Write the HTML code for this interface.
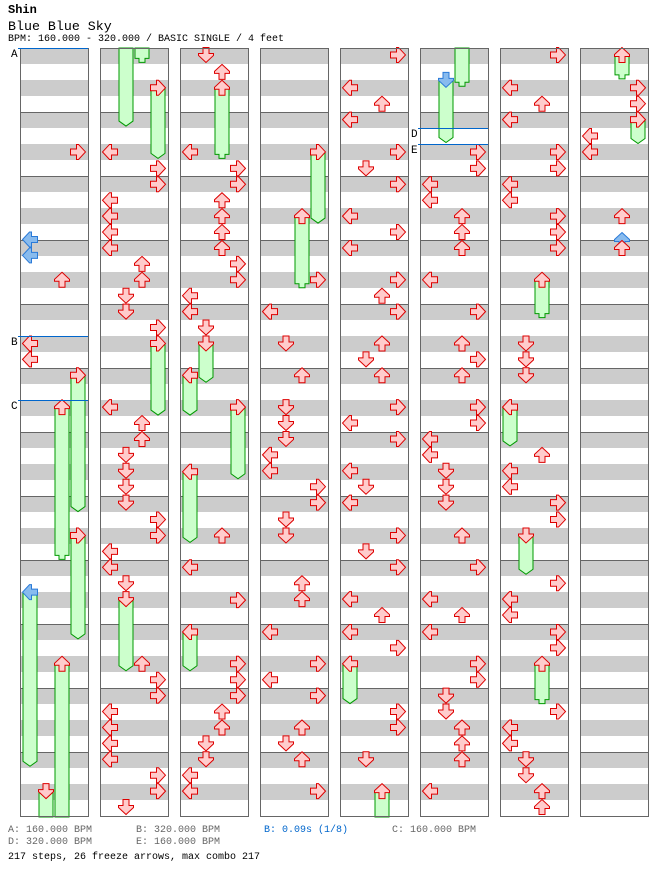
<!DOCTYPE html>
<html><head><meta charset="utf-8">
<style>
body{margin:0;background:#fff;width:672px;height:888px;overflow:hidden;position:relative;font-family:"Liberation Mono",monospace}
.t{position:absolute;white-space:pre;font-family:"Liberation Mono",monospace}
svg{position:absolute;left:0;top:0}
</style></head><body>
<div class="t" style="left:8px;top:3px;font-size:12px;font-weight:bold">Shin</div>
<div class="t" style="left:8px;top:19px;font-size:13.3px">Blue Blue Sky</div>
<div class="t" style="left:8px;top:34px;font-size:10px">BPM: 160.000 - 320.000 / BASIC SINGLE / 4 feet</div>
<svg id="s" width="672" height="888" xmlns="http://www.w3.org/2000/svg"></svg>
<div class="t" style="left:8px;top:825px;font-size:10px;color:#666">A: 160.000 BPM</div>
<div class="t" style="left:136px;top:825px;font-size:10px;color:#666">B: 320.000 BPM</div>
<div class="t" style="left:264px;top:825px;font-size:10px;color:#0066cc">B: 0.09s (1/8)</div>
<div class="t" style="left:392px;top:825px;font-size:10px;color:#666">C: 160.000 BPM</div>
<div class="t" style="left:8px;top:837px;font-size:10px;color:#666">D: 320.000 BPM</div>
<div class="t" style="left:136px;top:837px;font-size:10px;color:#666">E: 160.000 BPM</div>
<div class="t" style="left:8px;top:852px;font-size:10px;color:#000">217 steps, 26 freeze arrows, max combo 217</div>
<script>
var cols=[
"R217 bL393 bL425 U474 L602 L634 fR666-940 fU730-1036 fR988-1196 bfL1102-1452 fU1246-1600 fD1502-1600",
"fD-20-165 fU-20-37 fR88-230 L217 R250 R282 L314 L346 L378 L410 U442 U474 D506 D538 R570 fR602-746 L730 U762 U794 D826 D858 D890 D922 R956 R988 L1020 L1052 D1084 fD1116-1260 U1246 R1278 R1310 L1342 L1374 L1406 L1438 R1470 R1502 D1534",
"D22 U56 fU88-230 L217 R250 R282 U314 U346 U378 U410 R442 R474 L506 L538 D570 fD602-680 fL666-746 fR730-874 fL860-1002 U988 L1052 R1118 fL1182-1260 R1246 R1278 R1310 U1342 U1374 D1406 D1438 L1470 L1502",
"fR217-360 fU346-490 R474 L538 D602 U666 D730 D762 D794 L826 L858 R890 R922 D956 D988 U1084 U1116 L1182 R1246 L1278 R1310 U1374 D1406 U1438 R1502",
"R22 L88 U120 L152 R217 D250 R282 L346 R378 L410 R474 U506 R538 U602 D634 U666 R730 L762 R794 L858 D890 L922 R988 D1020 R1052 L1116 U1148 L1182 R1214 fL1246-1326 R1342 R1374 D1438 fU1502-1600",
"fU-20-85 bfD72-198 R217 R250 L282 L314 U346 U378 U410 L474 R538 U602 R634 U666 R730 R762 L794 L826 D858 D890 D922 U988 R1052 L1116 U1148 L1182 R1246 R1278 D1310 D1342 U1374 U1406 U1438 L1502",
"R22 L88 U120 L152 R217 R250 L282 L314 R346 R378 R410 fU474-550 D602 D634 D666 fL730-808 U826 L858 L890 R922 R956 fD988-1066 R1084 L1116 L1148 R1182 R1214 fU1246-1326 R1342 L1374 L1406 D1438 D1470 U1502 U1534",
"fU22-70 R88 R120 fR152-200 L185 L217 U346 bU394 U410"
];
var NS="http://www.w3.org/2000/svg",s=document.getElementById('s');
function el(t,a){var e=document.createElementNS(NS,t);for(var k in a)e.setAttribute(k,a[k]);s.appendChild(e);return e;}
function Y(z){return 48+(z-8)/2.0104;}
var rot={L:-90,D:180,U:0,R:90},lane={L:0,D:1,U:2,R:3};
var AP="0,-7.5 7.5,-0.5 7.5,1.5 3,1.5 3,7.5 -3,7.5 -3,1.5 -7.5,1.5 -7.5,-0.5";
function arrow(x,y,d,blue){el('polygon',{points:AP,transform:'translate('+x+','+y+') rotate('+rot[d]+')',fill:blue?'#88bbee':'#ffcccc',stroke:blue?'#2a7ad8':'#dd0000','stroke-width':1});}
for(var k=0;k<8;k++){var x0=20+80*k;
 el('rect',{x:x0,y:48,width:68,height:768,fill:'#fff'});
 for(var b=0;b<24;b++)el('rect',{x:x0,y:48+b*32,width:68,height:16,fill:'#cccccc'});
 for(var m=1;m<12;m++)el('line',{x1:x0,x2:x0+68,y1:48+m*64+0.5,y2:48+m*64+0.5,stroke:'#666'});
}
function bl(x1,x2,y,l,lx){el('line',{x1:x1,x2:x2,y1:y+0.5,y2:y+0.5,stroke:'#0066cc'});var t=el('text',{x:lx,y:y+9,'font-size':11,'font-family':'Liberation Mono, monospace',fill:'#000'});t.textContent=l;}
for(var k=0;k<8;k++){var x0=20+80*k;var items=cols[k].split(' ');
 var fr=[],ar=[];
 items.forEach(function(it){var blue=false;if(it[0]=='b'){blue=true;it=it.slice(1);}
  if(it[0]=='f'){var d=it[1],r=it.slice(2),i=r.indexOf('-',1);var a=+r.slice(0,i),b=+r.slice(i+1);fr.push([d,a,b,blue]);}
  else ar.push([it[0],+it.slice(1),blue]);});
 fr.forEach(function(f){var cx=x0+10+16*lane[f[0]],y1=Y(f[1]),y2=Y(f[2]);y1=Math.max(y1,48);y2=Math.min(y2,817);
  var pts;
  if(f[2]>1560)pts=[[cx-7,y1],[cx+7,y1],[cx+7,y2],[cx-7,y2]];
  else if(f[0]=='U')pts=[[cx-7,y1],[cx+7,y1],[cx+7,y2-4],[cx+3,y2-4],[cx+3,y2],[cx-3,y2],[cx-3,y2-4],[cx-7,y2-4]];
  else pts=[[cx-7,y1],[cx+7,y1],[cx+7,y2-5],[cx,y2],[cx-7,y2-5]];
  el('polygon',{points:pts.map(function(p){return p.join(',')}).join(' '),fill:'#ccffcc',stroke:'#009900','stroke-width':1});
 });
 fr.forEach(function(f){if(f[1]>0)arrow(x0+10+16*lane[f[0]],Y(f[1]),f[0],f[3]);});
 ar.forEach(function(a){arrow(x0+10+16*lane[a[0]],Y(a[1]),a[0],a[2]);});
}
for(var k=0;k<8;k++){el('rect',{x:20+80*k+0.5,y:48.5,width:68,height:768,fill:'none',stroke:'#666'});}
bl(18,88,48,'A',11);bl(18,88,336,'B',11);bl(18,88,400,'C',11);
bl(418,488,128,'D',411);bl(418,488,144,'E',411);
</script>
</body></html>
